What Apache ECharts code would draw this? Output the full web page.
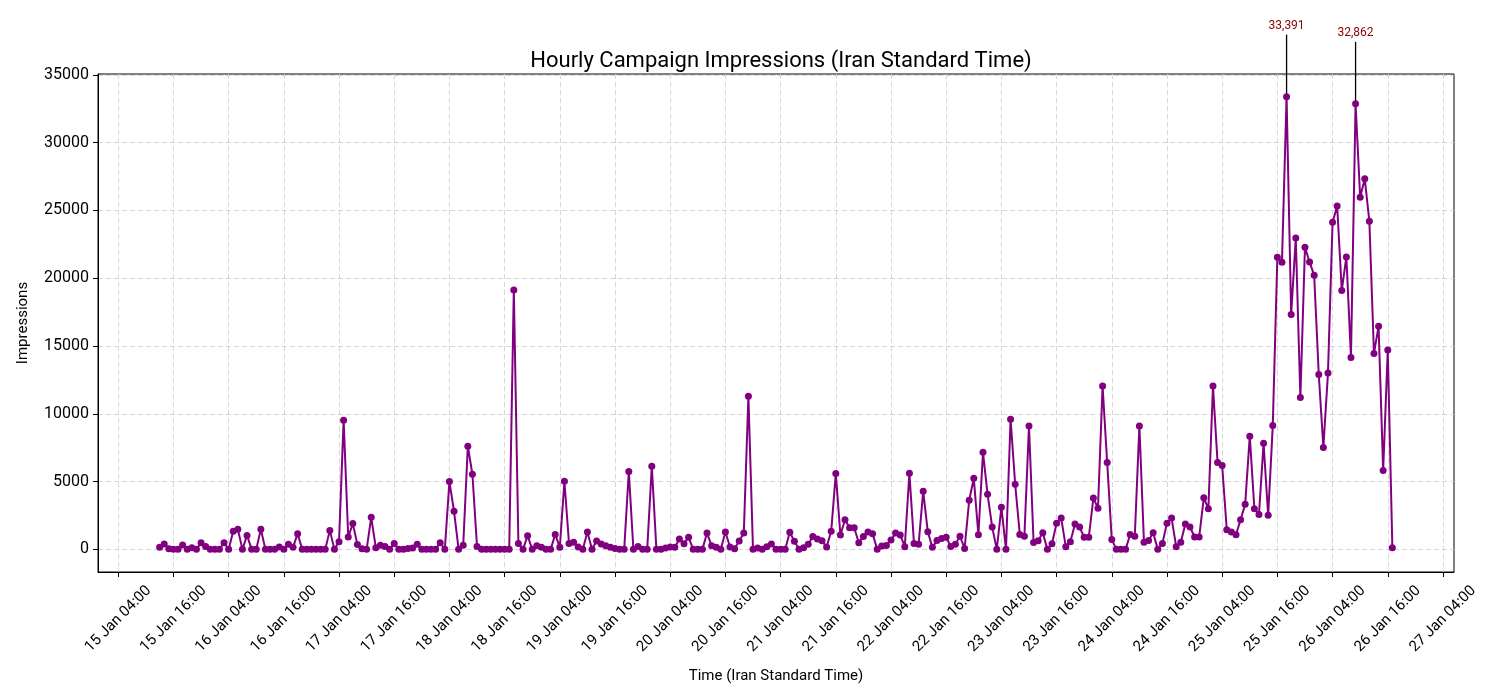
<!DOCTYPE html>
<html><head><meta charset="utf-8">
<script src="https://cdn.jsdelivr.net/npm/echarts@6/dist/echarts.min.js"></script>
<style>html,body{margin:0;padding:0;background:#fff}#c{width:1500px;height:700px}</style>
</head><body><div id="c"></div>
<script>
// hours after 15 Jan 04:00 of the first hourly sample
const START_HOUR = 9;
const impressions = [
  150,390,50,0,0,320,0,120,0,490,220,0,0,0,490,0,1330,1480,0,1030,0,0,1480,
  0,0,0,170,0,370,150,1160,0,0,0,0,0,0,1400,0,570,9530,910,1900,350,50,0,
  2360,120,300,220,0,440,0,0,70,100,370,0,0,0,0,490,0,5000,2810,0,300,7610,5540,220,
  0,0,0,0,0,0,0,
  19130,440,0,1010,0,270,150,0,0,1100,150,5020,440,520,170,0,1280,0,610,390,270,150,70,0,0,
  5740,0,220,0,0,6130,0,0,100,170,150,760,420,890,0,0,0,1200,270,150,0,1280,170,50,610,1200,11300,
  0,100,0,200,390,0,0,0,1260,590,0,120,370,940,760,640,170,1330,5590,1060,2190,1600,1600,490,940,1280,1160,0,240,280,
  690,1200,1060,200,5610,440,370,4280,1300,150,660,810,890,220,370,960,70,3620,5240,1080,7160,4060,1650,0,3100,0,
  9600,4800,1100,960,9100,500,640,1230,0,420,1920,2310,200,570,1870,1650,890,890,3780,3040,12040,6400,720,0,0,0,
  1100,960,9100,520,660,1230,0,440,1920,2310,200,520,1870,1650,910,910,3800,3000,12040,6400,6180,1450,1280,1080,2190,3320,8350,3000,2580,7830,2510,9130,
  21540,21170,33391,17330,22970,11200,22280,21200,20210,12900,7510,13000,24130,25330,19100,21570,14160,32862,25970,27330,24200,14450,16450,5810,14700,120
];
const xTickLabels = [
  '15 Jan 04:00','15 Jan 16:00','16 Jan 04:00','16 Jan 16:00','17 Jan 04:00','17 Jan 16:00',
  '18 Jan 04:00','18 Jan 16:00','19 Jan 04:00','19 Jan 16:00','20 Jan 04:00','20 Jan 16:00',
  '21 Jan 04:00','21 Jan 16:00','22 Jan 04:00','22 Jan 16:00','23 Jan 04:00','23 Jan 16:00',
  '24 Jan 04:00','24 Jan 16:00','25 Jan 04:00','25 Jan 16:00','26 Jan 04:00','26 Jan 16:00',
  '27 Jan 04:00'
];
const yTickValues = [0,5000,10000,15000,20000,25000,30000,35000];
const annotatedValues = [33391, 32862];

const FONT = 'Roboto, "Noto Sans", sans-serif';
const hours = impressions.map((_, i) => START_HOUR + i);
const xTickHours = xTickLabels.map((_, i) => i * 12);
const seriesData = impressions.map((v, i) => [hours[i], v]);

const xSpan = hours[hours.length - 1] - hours[0];
const xMin = hours[0] - 0.05 * xSpan;
const xMax = hours[hours.length - 1] + 0.05 * xSpan;
const yLo = Math.min(...impressions), yHi = Math.max(...impressions);
const yMin = yLo - 0.05 * (yHi - yLo);
const yMax = yHi + 0.05 * (yHi - yLo);

const chart = echarts.init(document.getElementById('c'), null, {renderer: 'canvas'});
const gridLine = {show: true, lineStyle: {color: '#d3d3d3', type: [5, 3], width: 0.9}};
chart.setOption({
  animation: false,
  backgroundColor: '#fff',
  title: {
    text: 'Hourly Campaign Impressions (Iran Standard Time)',
    left: 776, top: 45, textAlign: 'center',
    textStyle: {fontFamily: FONT, fontSize: 22, fontWeight: 'normal', color: '#000'}
  },
  grid: {left: 98, right: 46, top: 74, bottom: 128, show: true, borderColor: '#000', borderWidth: 1, containLabel: false},
  xAxis: {
    type: 'value', min: xMin, max: xMax,
    name: 'Time (Iran Standard Time)', nameLocation: 'middle', nameGap: 97,
    nameTextStyle: {fontFamily: FONT, fontSize: 15, color: '#000'},
    axisLine: {show: true, onZero: false, lineStyle: {color: '#000', width: 1}},
    axisTick: {show: true, length: 5, lineStyle: {color: '#000'}, customValues: xTickHours},
    axisLabel: {
      customValues: xTickHours, rotate: 45, margin: 47, align: 'center', verticalAlign: 'middle',
      fontFamily: FONT, fontSize: 15, color: '#000',
      formatter: v => xTickLabels[Math.round(v / 12)] || ''
    },
    splitLine: gridLine
  },
  yAxis: {
    type: 'value', min: yMin, max: yMax,
    name: 'Impressions', nameLocation: 'middle', nameGap: 67, nameRotate: 90,
    nameTextStyle: {fontFamily: FONT, fontSize: 15, color: '#000'},
    axisLine: {show: true, onZero: false, lineStyle: {color: '#000', width: 1}},
    axisTick: {show: true, length: 5, lineStyle: {color: '#000'}, customValues: yTickValues},
    axisLabel: {customValues: yTickValues, margin: 9, fontFamily: FONT, fontSize: 16, color: '#000', formatter: v => String(v)},
    splitLine: gridLine
  },
  series: [{
    type: 'line', data: seriesData,
    symbol: 'circle', symbolSize: 7, showAllSymbol: true,
    lineStyle: {color: '#800080', width: 2},
    itemStyle: {color: '#800080'},
    emphasis: {disabled: true}
  }]
});

const graphics = [];
annotatedValues.forEach(v => {
  const i = impressions.indexOf(v);
  const p = chart.convertToPixel({xAxisIndex: 0, yAxisIndex: 0}, [hours[i], v]);
  graphics.push({type: 'line', z: 100, shape: {x1: p[0], y1: p[1] - 62, x2: p[0], y2: p[1] - 3}, style: {stroke: '#000', lineWidth: 1.3}});
  graphics.push({type: 'text', z: 100, style: {text: v.toLocaleString('en-US'), x: p[0], y: p[1] - 71, textAlign: 'center', textVerticalAlign: 'middle', fill: '#8b0000', font: '12px ' + FONT}});
});
chart.setOption({graphic: graphics});
</script>
</body></html>
